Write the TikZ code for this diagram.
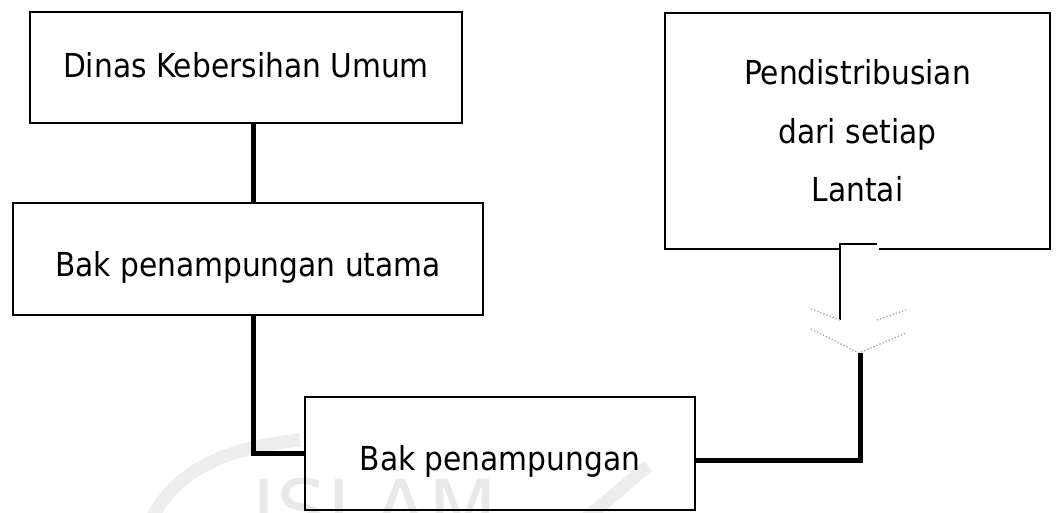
\documentclass[tikz,border=0pt]{standalone}
\usepackage{fontspec}
\setmainfont{DejaVu Sans Condensed}
\newfontfamily\markfont{DejaVu Sans}
\begin{document}
\begin{tikzpicture}[x=1pt,y=-1pt,
  box/.style={draw, line width=1.8pt, inner sep=0pt, align=center,
    font=\fontsize{33}{58.5}\selectfont},
  conn/.style={line width=5pt, line join=miter},
  thinline/.style={line width=1.8pt, line join=miter},
  headline/.style={line width=1.3pt, dotted, gray!70},
  wmband/.style={line width=13pt, gray!14}]
\useasboundingbox (0,0) rectangle (1061,513);

% faint watermark in the lower part
\begin{scope}
  \clip (0,0) rectangle (1061,513);
  \draw[wmband] (150,522) .. controls (175,470) and (225,448) .. (300,440);
  \draw[wmband] (584,520) -- (648,466);
  \node[anchor=base, text=gray!17, font=\markfont\fontsize{80}{82}\selectfont] (wm) at (375,537) {ISLAM};
\end{scope}

% boxes
\node[box, minimum width=432pt, minimum height=111pt, text height=25pt, text depth=4pt]
  (b1) at (246,67.5) {Dinas Kebersihan Umum};
\node[box, minimum width=470pt, minimum height=112pt, text height=40pt, text depth=4pt]
  (b2) at (248,259) {Bak penampungan utama};
\node[box, minimum width=390pt, minimum height=113pt, text height=37pt, text depth=4pt]
  (b3) at (500,453.5) {Bak penampungan};
\node[box, minimum width=385pt, minimum height=236pt]
  (b4) at (857.5,131) {Pendistribusian\\dari setiap\\Lantai};

% hollow block arrow leaving the distribution box
\fill[white] ([xshift=-16.6pt,yshift=2.5pt]b4.south) rectangle ([xshift=21pt,yshift=-2.5pt]b4.south);
\draw[thinline] (840,320) -- (840,244) -- (877,244);
\draw[headline] (811,309) -- (840,320) (877,320) -- (906,310)
  (811,329) -- (859,353) -- (906,333);
\coordinate (tip) at (860,353);

% connectors
\draw[conn] ([xshift=7pt]b1.south) -- ([xshift=7pt]b1.south |- b2.north);
\draw[conn] ([xshift=5pt]b2.south) |- (b3.west);
\draw[conn] ([yshift=-6.5pt]b3.east) -| (tip);
\end{tikzpicture}
\end{document}
